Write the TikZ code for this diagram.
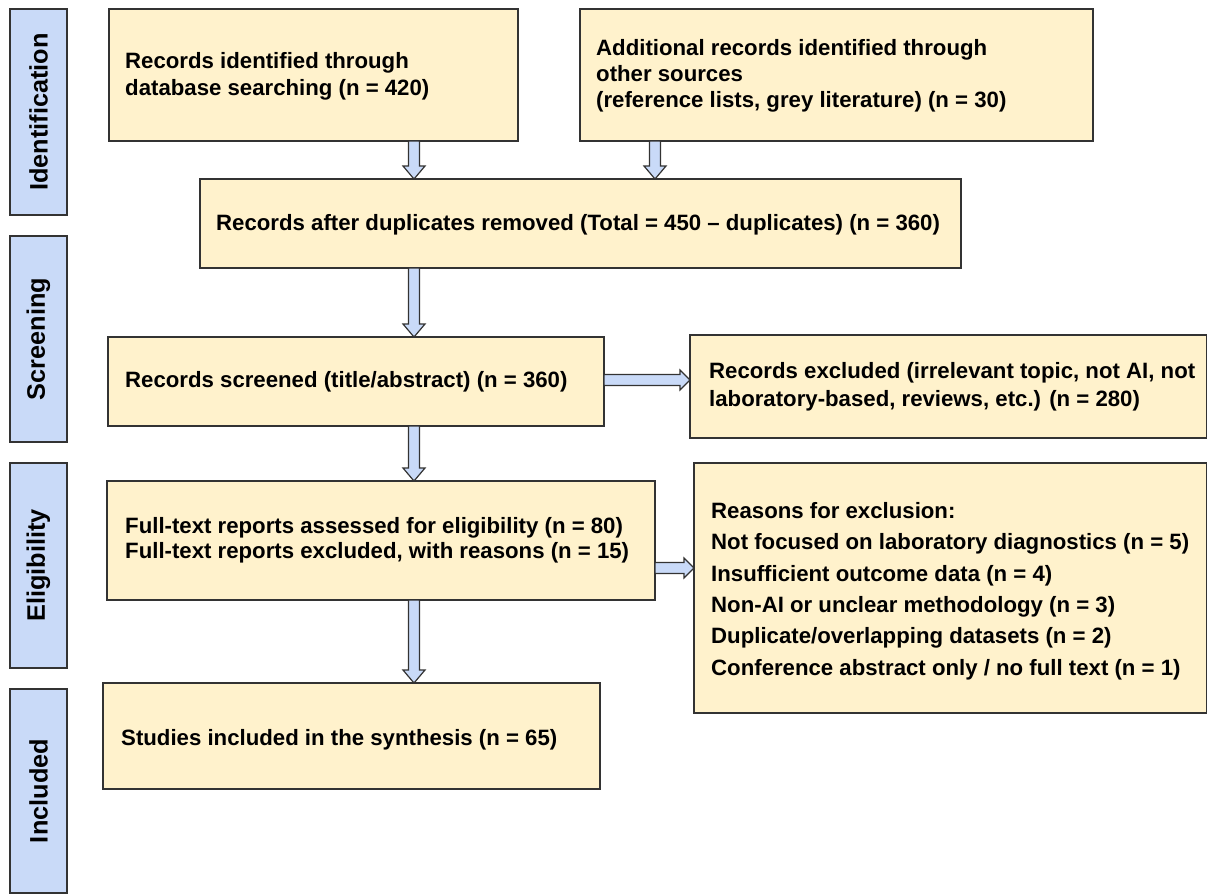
\documentclass[tikz,border=0pt]{standalone}
\usepackage{fontspec}
\setmainfont{Liberation Sans}
\usetikzlibrary{calc}
\definecolor{boxfill}{HTML}{FFF2CC}
\definecolor{sidefill}{HTML}{C9DAF8}
\definecolor{edge}{HTML}{333333}
\tikzset{
  box/.style={draw=edge, line width=1.3pt, fill=boxfill, inner sep=0pt, outer sep=0pt},
  txt/.style={anchor=west, inner sep=0pt, align=left, font=\fontsize{22.2}{27}\selectfont\bfseries},
  side/.style={draw=edge, line width=1.3pt, fill=sidefill, rotate=90, inner sep=0pt, outer sep=0pt,
    minimum height=57pt, font=\fontsize{25.3}{26}\selectfont\bfseries},
  varrow/.style={draw=edge, line width=1.2pt, fill=sidefill, line join=miter, to path={let \p1=(\tikztostart),\p2=(\tikztotarget) in
    (\x1-5.5pt,\y1) -- (\x1-5.5pt,\y2+13pt) -- (\x1-11pt,\y2+13pt) -- (\x1,\y2) -- (\x1+11pt,\y2+13pt) -- (\x1+5.5pt,\y2+13pt) -- (\x1+5.5pt,\y1) -- cycle}},
  harrow/.style={draw=edge, line width=1.2pt, fill=sidefill, line join=miter, to path={let \p1=(\tikztostart),\p2=(\tikztotarget) in
    (\x1,\y1+5.5pt) -- (\x2-10pt,\y1+5.5pt) -- (\x2-10pt,\y1+10pt) -- (\x2,\y1) -- (\x2-10pt,\y1-10pt) -- (\x2-10pt,\y1-5.5pt) -- (\x1,\y1-5.5pt) -- cycle}}
}
\begin{document}
\begin{tikzpicture}[x=1pt,y=-1pt]
\useasboundingbox (0,0) rectangle (1207,895);
% side labels
\node[side, minimum width=206pt] (sid) at (38.5,112) {Identification};
\node[side, minimum width=206pt] (sscr) at (38.5,339) {Screening};
\node[side, minimum width=205pt] (selig) at (38.5,565.5) {Eligibility};
\node[side, minimum width=204pt] (sinc) at (38.5,791) {Included};
% boxes
\node[box, minimum width=409pt, minimum height=132pt] (A) at (313.5,75) {};
\node[box, minimum width=513pt, minimum height=132pt] (B) at (836.5,75) {};
\node[box, minimum width=761pt, minimum height=89pt] (C) at (580.5,223.5) {};
\node[box, minimum width=496pt, minimum height=89pt] (D) at (356,381.5) {};
\node[box, minimum width=517pt, minimum height=103pt] (E) at (948.5,386.5) {};
\node[box, minimum width=548pt, minimum height=119pt] (F) at (381,540.5) {};
\node[box, minimum width=513pt, minimum height=250pt] (G) at (950.5,588) {};
\node[box, minimum width=497pt, minimum height=106pt] (H) at (351.5,736) {};
% texts
\node[txt] (At) at ([xshift=16pt,yshift=-1.5pt]A.west) {Records identified through\\database searching (n = 420)};
\node[txt, font=\fontsize{22.2}{26}\selectfont\bfseries] (Bt) at ([xshift=16pt,yshift=-1pt]B.west)
  {Additional records identified through\\other sources\\(reference lists, grey literature) (n = 30)};
\node[txt] (Ct) at ([xshift=16pt,yshift=-1.5pt]C.west) {Records after duplicates removed (Total = 450 -- duplicates) (n = 360)};
\node[txt] (Dt) at ([xshift=17pt]D.west) {Records screened (title/abstract) (n = 360)};
\node[txt, font=\fontsize{22.2}{28}\selectfont\bfseries] (Et) at ([xshift=19pt]E.west)
  {Records excluded (irrelevant topic, not AI, not\\laboratory-based, reviews, etc.) (n = 280)};
\node[txt, font=\fontsize{22.2}{25}\selectfont\bfseries] (Ft) at ([xshift=18pt]F.west)
  {Full-text reports assessed for eligibility (n = 80)\\Full-text reports excluded, with reasons (n = 15)};
\node[txt, font=\fontsize{22.2}{31.4}\selectfont\bfseries] (Gt) at ([xshift=17pt,yshift=-3pt]G.west)
  {Reasons for exclusion:\\Not focused on laboratory diagnostics (n = 5)\\Insufficient outcome data (n = 4)\\Non-AI or unclear methodology (n = 3)\\Duplicate/overlapping datasets (n = 2)\\Conference abstract only / no full text (n = 1)};
\node[txt] (Ht) at ([xshift=18pt,yshift=-4pt]H.west) {Studies included in the synthesis (n = 65)};
% helper coordinates
\coordinate (xa) at (414,0);
\coordinate (xb) at (655,0);
\coordinate (yde) at (0,380);
\coordinate (yfg) at (0,568);
% arrows
\path[varrow] (A.south -| xa) to (C.north -| xa);
\path[varrow] (B.south -| xb) to (C.north -| xb);
\path[varrow] (C.south -| xa) to (D.north -| xa);
\path[varrow] (D.south -| xa) to (F.north -| xa);
\path[varrow] (F.south -| xa) to (H.north -| xa);
\path[harrow] (D.east |- yde) to (E.west |- yde);
\path[harrow] (F.east |- yfg) to (G.west |- yfg);
\end{tikzpicture}
\end{document}
